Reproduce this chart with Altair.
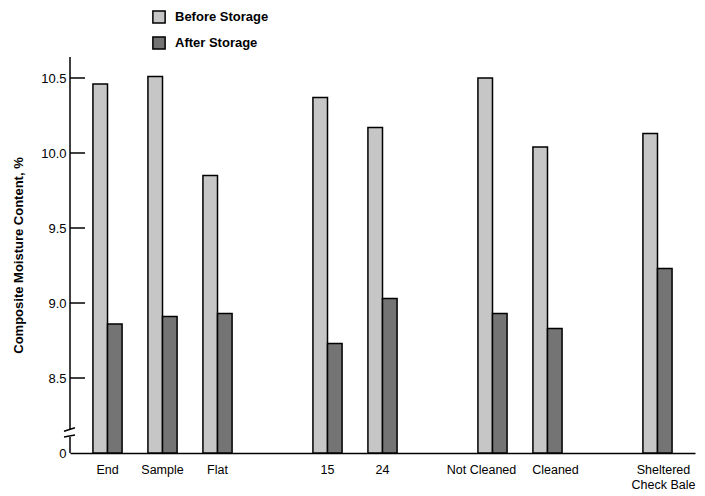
import altair as alt
import pandas as pd

# ---- data ----
categories = ["End", "Sample", "Flat", "15", "24", "Not Cleaned", "Cleaned", "Sheltered|Check Bale"]
before_storage = [10.46, 10.51, 9.85, 10.37, 10.17, 10.50, 10.04, 10.13]
after_storage = [8.86, 8.91, 8.93, 8.73, 9.03, 8.93, 8.83, 9.23]
series = ["Before Storage", "After Storage"]
slot_order = ["End", "Sample", "Flat", " ", "15", "24", "  ", "Not Cleaned", "Cleaned", "   ", "Sheltered|Check Bale"]
y_tick_values = [8.5, 9.0, 9.5, 10.0, 10.5]

rows = []
for c, b, a in zip(categories, before_storage, after_storage):
    rows.append({"category": c, "series": series[0], "value": b})
    rows.append({"category": c, "series": series[1], "value": a})
df = pd.DataFrame(rows)

FONT = "Liberation Sans"
Y_MIN, Y_MAX = 8.0, 10.64
yscale = alt.Scale(domain=[Y_MIN, Y_MAX], zero=False, nice=False)
Y_TITLE = "Composite Moisture Content, %"
yaxis = alt.Axis(
    title=Y_TITLE, values=[8.0] + y_tick_values,
    labelExpr="datum.value == 8 ? '0' : format(datum.value, '.1f')",
    ticks=False, domain=False, grid=False, labelPadding=4, labelFontSize=13,
    labelFont=FONT, labelColor="black", titleFont=FONT, titleFontSize=13,
    titleFontWeight="bold", titleColor="black", titlePadding=15,
)

label_offset = {
    "condition": [
        {"test": "datum.label == 'Not Cleaned'", "value": -11},
        {"test": "datum.label == 'Cleaned'", "value": 8},
        {"test": "indexof(datum.label, 'Sheltered') >= 0", "value": 6},
    ],
    "value": 0,
}

bars = alt.Chart(df).mark_bar(stroke="black", strokeWidth=1.5).encode(
    x=alt.X(
        "category:N",
        sort=slot_order,
        scale=alt.Scale(domain=slot_order, paddingInner=0.47, paddingOuter=0.417),
        axis=alt.Axis(
            title=None, ticks=False, labelAngle=0, domain=True, domainColor="black",
            domainWidth=1.5, labelPadding=10, labelFontSize=12.5, labelFont=FONT,
            labelColor="black", labelExpr="split(datum.label, '|')", labelLineHeight=15,
            labelBaseline="top", labelOffset=label_offset, grid=False,
        ),
    ),
    xOffset=alt.XOffset("series:N", sort=series, scale=alt.Scale(domain=series, paddingInner=0, paddingOuter=0)),
    y=alt.Y("value:Q", scale=yscale, axis=yaxis),
    y2=alt.datum(Y_MIN),
    color=alt.Color(
        "series:N",
        sort=series,
        scale=alt.Scale(domain=series, range=["#c6c6c6", "#747474"]),
        legend=alt.Legend(
            title=None, orient="none", legendX=82, legendY=-47, symbolType="square",
            symbolSize=150, symbolStrokeColor="black", symbolStrokeWidth=1.5,
            labelFont=FONT, labelFontSize=13, labelFontWeight="bold", labelColor="black",
            rowPadding=6, labelOffset=9,
        ),
    ),
)

# y axis line with a break near the bottom
axis_segments = pd.DataFrame({"value": [Y_MIN, 8.155], "y2": [8.107, Y_MAX]})
axis_line = alt.Chart(axis_segments).mark_rule(color="black", strokeWidth=1.5).encode(
    x=alt.value(0),
    y=alt.Y("value:Q", scale=yscale, axis=yaxis),
    y2="y2:Q",
)
break_marks = pd.DataFrame({"value": [8.145, 8.107], "y2": [8.168, 8.12]})
breaks = alt.Chart(break_marks).mark_rule(color="black", strokeWidth=1.5).encode(
    x=alt.value(-6),
    x2=alt.value(5),
    y=alt.Y("value:Q", scale=yscale, axis=yaxis),
    y2="y2:Q",
)

# inward tick marks
ticks = alt.Chart(pd.DataFrame({"value": y_tick_values})).mark_rule(color="black", strokeWidth=1.5).encode(
    x=alt.value(0),
    x2=alt.value(15),
    y=alt.Y("value:Q", scale=yscale, axis=yaxis),
)

chart = alt.layer(bars, axis_line, breaks, ticks).properties(
    width=625,
    height=396,
    background="white",
    autosize=alt.AutoSizeParams(type="none"),
    padding={"left": 62, "top": 49, "right": 2, "bottom": 40},
).configure_view(stroke=None, strokeWidth=0).configure_axis(grid=False)

chart.save("out.html", embed_options={"renderer": "svg", "actions": False})
